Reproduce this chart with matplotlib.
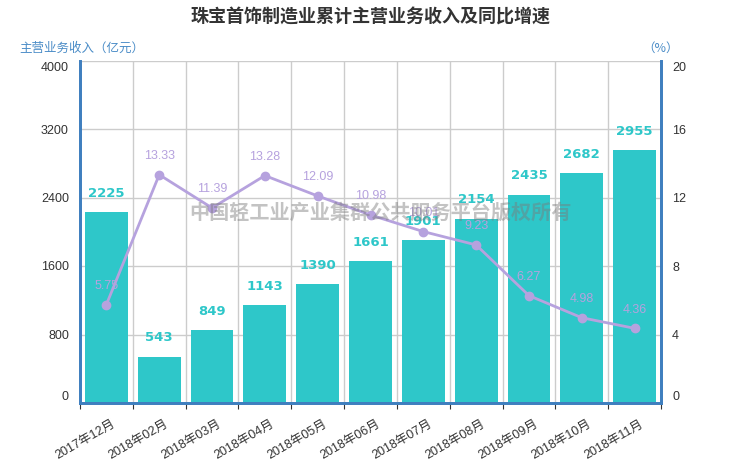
import matplotlib
matplotlib.use("Agg")
import matplotlib.pyplot as plt
from matplotlib.transforms import ScaledTranslation
import numpy as np

plt.rcParams['font.family'] = ['Liberation Sans', 'Noto Sans CJK SC', 'DejaVu Sans']

categories = ['2017年12月', '2018年02月', '2018年03月', '2018年04月', '2018年05月', '2018年06月',
              '2018年07月', '2018年08月', '2018年09月', '2018年10月', '2018年11月']
revenue = [2225, 543, 849, 1143, 1390, 1661, 1901, 2154, 2435, 2682, 2955]
growth = [5.75, 13.33, 11.39, 13.28, 12.09, 10.98, 10.01, 9.23, 6.27, 4.98, 4.36]
left_ticks = [0, 800, 1600, 2400, 3200, 4000]
right_ticks = [0, 4, 8, 12, 16, 20]

title = '珠宝首饰制造业累计主营业务收入及同比增速'
left_name = '主营业务收入（亿元）'
right_name = '（%）'
watermark = '中国轻工业产业集群公共服务平台版权所有'

bar_color = '#2ec7c9'
line_color = '#b6a2de'
axis_color = '#3f7fbf'

fig = plt.figure(figsize=(7.4, 4.62), dpi=100)
ax = fig.add_axes([80/740, 1-403/462, (661-80)/740, (403-60.5)/462])
ax2 = ax.twinx()

x = np.arange(len(categories))
ax.bar(x, revenue, width=0.81, color=bar_color, zorder=2)
ax.set_xlim(-0.5, len(categories)-0.5)
ax.set_ylim(0, 4000)
ax.set_yticks(left_ticks)
ax.set_yticklabels([str(v) for v in left_ticks])
ax.set_xticks(np.arange(len(categories)+1)-0.5, minor=False)
ax.set_xticklabels([])
ax.set_xticks(x + 0.1, minor=True)
ax.set_xticklabels(categories, minor=True, rotation=30, ha='right', rotation_mode='anchor',
                   fontsize=9, color='#333333')
ax.tick_params(axis='x', which='minor', length=0, pad=11)
ax.tick_params(axis='x', which='major', length=4, color='#333333', direction='out')
ax.tick_params(axis='y', length=0, labelsize=9, labelcolor='#333333', pad=8)
ax.grid(True, which='major', color='#cccccc', lw=1, zorder=0)
ax.set_axisbelow(True)

ylabels = ax.get_yticklabels()
ylabels[0].set_transform(ylabels[0].get_transform() + ScaledTranslation(0, 7/100, fig.dpi_scale_trans))
ylabels[-1].set_transform(ylabels[-1].get_transform() + ScaledTranslation(0, -6/100, fig.dpi_scale_trans))

for i, v in enumerate(revenue):
    ax.annotate(str(v), (i, v), xytext=(0, 13.5), textcoords='offset points',
                ha='center', va='center', fontsize=9.5, fontweight='bold',
                color=bar_color, family='DejaVu Sans', zorder=5)

ax2.plot(x, growth, color=line_color, lw=2, marker='o', ms=6, zorder=4)
ax2.set_ylim(0, 20)
ax2.set_yticks(right_ticks)
ax2.set_yticklabels([str(v) for v in right_ticks])
ax2.tick_params(axis='y', length=0, labelsize=9, labelcolor='#333333', pad=8)
rlabels = ax2.get_yticklabels()
rlabels[0].set_transform(rlabels[0].get_transform() + ScaledTranslation(0, 7/100, fig.dpi_scale_trans))
rlabels[-1].set_transform(rlabels[-1].get_transform() + ScaledTranslation(0, -6/100, fig.dpi_scale_trans))
for i, v in enumerate(growth):
    ax2.annotate(f'{v:.2f}', (i, v), xytext=(0, 13.5), textcoords='offset points',
                 ha='center', va='center', fontsize=9, color=line_color, zorder=5)

for a in (ax, ax2):
    a.spines['top'].set_visible(False)
    for s in ['left', 'right', 'bottom']:
        a.spines[s].set_color(axis_color)
        a.spines[s].set_linewidth(2)

cjk = ['Noto Sans CJK SC', 'DejaVu Sans']
fig.text(0.5, 1-17/462, title, ha='center', va='center', fontsize=13, fontweight='bold',
         color='#333333', family=cjk)
fig.text(19/740, 1-48/462, left_name, ha='left', va='center', fontsize=9, color='#4a8cc7',
         family=cjk)
fig.text(661/740, 1-48/462, right_name, ha='center', va='center', fontsize=9, color='#4a8cc7',
         family=cjk)
fig.text(380/740, 1-212/462, watermark, ha='center', va='center', fontsize=14.5,
         fontweight='bold', color='#7a7a7a', alpha=0.45, zorder=10, family=cjk)

fig.savefig('out.png', dpi=100)
